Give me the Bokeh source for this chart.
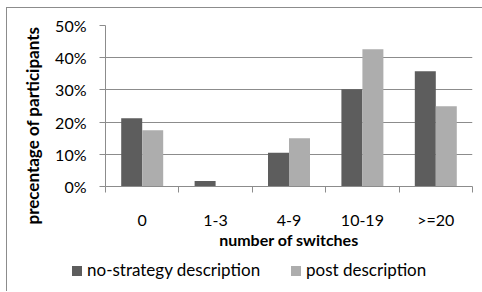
from bokeh.plotting import figure
from bokeh.layouts import column
from bokeh.models import (Range1d, FixedTicker, NumeralTickFormatter, Title, ColumnDataSource, Div)
from bokeh.embed import file_html
from bokeh.resources import INLINE

categories = ["0", "1-3", "4-9", "10-19", ">=20"]
no_strategy = [0.212, 0.017, 0.105, 0.302, 0.358]
post_desc = [0.175, 0.0, 0.150, 0.426, 0.249]
y_ticks = [0.0, 0.1, 0.2, 0.3, 0.4, 0.5]
series_names = ["no-strategy description", "post description"]

DARK = "#5d5d5d"
LIGHT = "#adadad"
GRID = "#8c8c8c"
FONT = "Lato"

idx = list(range(len(categories)))
bw = 0.286
src = ColumnDataSource(dict(
    xd=[i + 0.5 - bw / 2 for i in idx],
    xl=[i + 0.5 + bw / 2 for i in idx],
    a=no_strategy, b=post_desc))

p = figure(width=475, height=243, output_backend="svg", toolbar_location=None,
           x_range=Range1d(0, len(categories)), y_range=Range1d(0, 0.5),
           min_border_top=17, min_border_left=98, min_border_right=10, min_border_bottom=62)
p.outline_line_color = None
p.xgrid.visible = False
p.ygrid.grid_line_color = GRID
p.ygrid.ticker = FixedTicker(ticks=y_ticks)

p.vbar(x="xd", top="a", width=bw, source=src, fill_color=DARK, line_color=None)
p.vbar(x="xl", top="b", width=bw, source=src, fill_color=LIGHT, line_color=None)

xa = p.xaxis[0]
xa.ticker = FixedTicker(ticks=[i + 0.5 for i in idx], minor_ticks=list(range(len(categories) + 1)))
xa.major_label_overrides = {i + 0.5: c for i, c in zip(idx, categories)}
xa.major_tick_line_color = None
xa.major_tick_out = 0
xa.minor_tick_out = 6
xa.minor_tick_in = 0
xa.minor_tick_line_color = GRID
xa.axis_line_color = GRID
xa.major_label_text_font = FONT
xa.major_label_text_font_size = "16px"
xa.major_label_text_color = "#000000"
xa.major_label_standoff = 17
xa.axis_label = "number of switches"
xa.axis_label_text_font = FONT
xa.axis_label_text_font_style = "bold"
xa.axis_label_text_font_size = "16px"
xa.axis_label_text_color = "#000000"
xa.axis_label_standoff = -2

ya = p.yaxis[0]
ya.ticker = FixedTicker(ticks=y_ticks)
ya.formatter = NumeralTickFormatter(format="0%")
ya.minor_tick_line_color = None
ya.major_tick_out = 6
ya.major_tick_in = 0
ya.major_tick_line_color = GRID
ya.axis_line_color = GRID
ya.major_label_text_font = FONT
ya.major_label_text_font_size = "16px"
ya.major_label_text_color = "#000000"
ya.major_label_standoff = 13

t = Title(text="precentage of participants", align="left", offset=-38, standoff=20,
          text_font=FONT, text_font_size="17px", text_font_style="bold", text_color="#000000")
p.add_layout(t, "left")

# legend strip
def item(color, label, left):
    return (f'<span style="position:absolute;left:{left}px;top:15px;width:10px;height:10px;'
            f'background:{color};"></span>'
            f'<span style="position:absolute;left:{left + 15}px;top:9px;line-height:20px;'
            f'white-space:nowrap;">{label}</span>')

html = ('<div style="position:relative;width:475px;height:40px;font-family:Lato;'
        'font-size:17px;color:#000000;">'
        + item(DARK, series_names[0], 65) + item(LIGHT, series_names[1], 284) + '</div>')
leg = Div(text=html, width=475, height=40, margin=0)

layout = column(p, leg, spacing=0,
                styles={"margin-left": "6px", "margin-top": "7px",
                        "border-left": "1px solid #8c8c8c", "border-top": "1px solid #8c8c8c"})

open("out.html", "w").write(file_html(layout, INLINE))
